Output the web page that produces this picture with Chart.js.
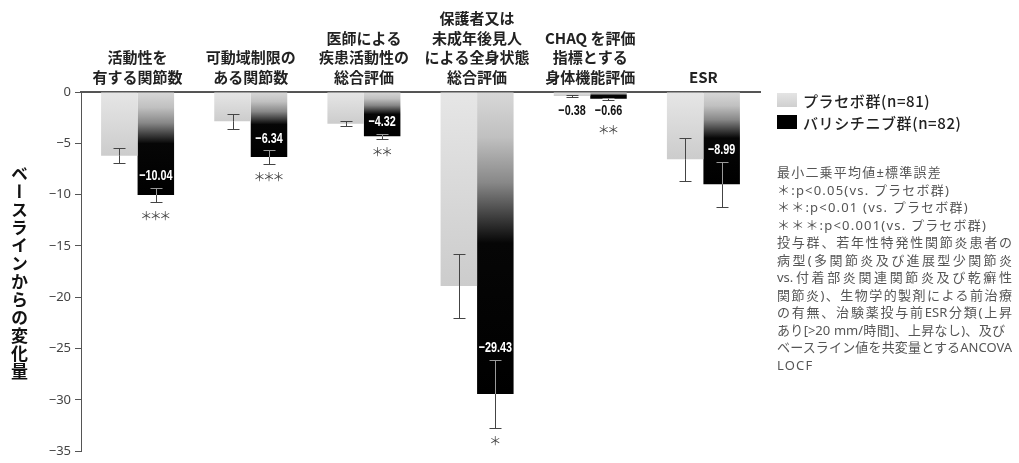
<!DOCTYPE html>
<html><head><meta charset="utf-8">
<script src="https://cdn.jsdelivr.net/npm/chart.js@4/dist/chart.umd.min.js"></script>
<style>
html,body{margin:0;padding:0;background:#fff;}
#wrap{position:relative;width:1019px;height:463px;overflow:hidden;background:#fff;}
#c{position:absolute;left:0;top:0;}
#ytitle{position:absolute;left:10px;top:165px;writing-mode:vertical-rl;font:bold 17px "Noto Sans CJK JP";line-height:18px;color:#111;letter-spacing:1px;}
#legend{position:absolute;left:777px;top:89px;font:500 15px "Noto Sans CJK JP";color:#222;letter-spacing:0.6px;}
.row{display:flex;align-items:center;height:22px;}
.sw{width:20px;height:14px;margin-right:6px;}
#notes{position:absolute;left:777px;top:164px;font:13px "Noto Sans","Noto Sans CJK JP";color:#555;line-height:17.5px;}
#notes div{white-space:nowrap;height:17.5px;}
#notes .s{letter-spacing:1.2px;}
#notes .j{width:235px;text-align:justify;text-align-last:justify;text-justify:inter-character;}
</style></head>
<body><div id="wrap">
<canvas id="c" width="1019" height="463"></canvas>
<div id="ytitle">ベースラインからの変化量</div>
<div id="legend">
<div class="row"><div class="sw" style="background:linear-gradient(#e4e4e4,#cfcfcf)"></div>プラセボ群(n=81)</div>
<div class="row"><div class="sw" style="background:#000"></div>バリシチニブ群(n=82)</div>
</div>
<div id="notes">
<div class="s">最小二乗平均値±標準誤差</div>
<div class="s">＊:p&lt;0.05(vs. プラセボ群)</div>
<div class="s">＊＊:p&lt;0.01 (vs. プラセボ群)</div>
<div class="s">＊＊＊:p&lt;0.001(vs. プラセボ群)</div>
<div class="j">投与群、若年性特発性関節炎患者の</div>
<div class="j">病型(多関節炎及び進展型少関節炎</div>
<div class="j">vs.付着部炎関連関節炎及び乾癬性</div>
<div class="j">関節炎)、生物学的製剤による前治療</div>
<div class="j">の有無、治験薬投与前ESR分類(上昇</div>
<div class="j" style="width:228px">あり[&gt;20 mm/時間]、上昇なし)、及び</div>
<div class="j">ベースライン値を共変量とするANCOVA</div>
<div class="s">LOCF</div>
</div>
</div>
<script>
const categories = [
  ['活動性を','有する関節数'],
  ['可動域制限の','ある関節数'],
  ['医師による','疾患活動性の','総合評価'],
  ['保護者又は','未成年後見人','による全身状態','総合評価'],
  ['CHAQ を評価','指標とする','身体機能評価'],
  'ESR'
];
const placeboLabel = 'プラセボ群(n=81)';
const activeLabel = 'バリシチニブ群(n=82)';
const placeboValues = [-6.2, -2.85, -3.1, -18.9, -0.38, -6.55];
const placeboErrors = [0.7, 0.75, 0.25, 3.15, 0.1, 2.1];
const activeValues = [-10.04, -6.34, -4.32, -29.43, -0.66, -8.99];
const activeErrors = [0.7, 0.65, 0.25, 3.3, 0.1, 2.2];
const significance = [3, 3, 2, 1, 2, 0];
const yMin = -35, yMax = 0, yStep = 5;

const placeboStops = [[0,'#e6e6e6'],[1,'#cccccc']];
const activeStops = [[0,'#d8d8d8'],[0.15,'#c0c0c0'],[0.3,'#888888'],[0.42,'#3a3a3a'],[0.5,'#060606'],[1,'#000000']];

function gradientFor(ctx, stops) {
  const chart = ctx.chart;
  if (!chart.chartArea || !chart.scales.y) return stops[stops.length-1][1];
  const y = chart.scales.y;
  const p0 = y.getPixelForValue(0), p1 = y.getPixelForValue(ctx.raw);
  if (Math.abs(p1 - p0) < 1) return stops[stops.length-1][1];
  const g = chart.ctx.createLinearGradient(0, p0, 0, p1);
  stops.forEach(s => g.addColorStop(s[0], s[1]));
  return g;
}

const fmt = v => (v < 0 ? '\u2212' : '') + Math.abs(v).toFixed(2);

function narrowText(c, text, x, y) {
  c.save();
  c.translate(x, y);
  c.scale(0.72, 1);
  c.fillText(text, 0, 0);
  c.restore();
}

const overlayPlugin = {
  id: 'overlay',
  afterDatasetsDraw(chart) {
    const c = chart.ctx, y = chart.scales.y;
    const sets = [[0, placeboValues, placeboErrors], [1, activeValues, activeErrors]];
    sets.forEach(([di, vals, errs]) => {
      const meta = chart.getDatasetMeta(di);
      meta.data.forEach((bar, i) => {
        const x = Math.round(bar.x) + 0.5;
        const v = vals[i], e = errs[i];
        const yt = Math.round(y.getPixelForValue(v + e)) + 0.5;
        const yb = Math.round(y.getPixelForValue(v - e)) + 0.5;
        const yv = y.getPixelForValue(v);
        const cap = 6;
        c.save();
        c.lineWidth = 1;
        c.strokeStyle = di === 1 ? '#9a9a9a' : '#444';
        c.beginPath(); c.moveTo(x, yt); c.lineTo(x, yv); c.moveTo(x-cap, yt); c.lineTo(x+cap, yt); c.stroke();
        c.strokeStyle = '#444';
        c.beginPath(); c.moveTo(x, yv); c.lineTo(x, yb); c.moveTo(x-cap, yb); c.lineTo(x+cap, yb); c.stroke();
        c.restore();
      });
    });
    c.save();
    c.font = 'bold 15px "Liberation Sans", sans-serif';
    c.textAlign = 'center'; c.textBaseline = 'middle';
    const zero = y.getPixelForValue(0);
    const starBase = [];
    const pMeta = chart.getDatasetMeta(0), aMeta = chart.getDatasetMeta(1);
    activeValues.forEach((v, i) => {
      const bar = aMeta.data[i];
      const h = y.getPixelForValue(v) - zero;
      const yb = y.getPixelForValue(v - activeErrors[i]);
      if (h > 25) {
        const yt = y.getPixelForValue(v + activeErrors[i]);
        c.fillStyle = '#fff';
        narrowText(c, fmt(v), bar.x, yt - 12);
        starBase[i] = yb + 14;
      } else {
        const ly = y.getPixelForValue(Math.min(v - activeErrors[i], placeboValues[i] - placeboErrors[i])) + 11;
        c.fillStyle = '#111';
        narrowText(c, fmt(v), bar.x, ly);
        narrowText(c, fmt(placeboValues[i]), pMeta.data[i].x, ly);
        starBase[i] = ly + 20;
      }
    });
    c.font = '12px "Noto Sans CJK JP"';
    c.fillStyle = '#444';
    significance.forEach((n, i) => {
      const bx = aMeta.data[i].x;
      for (let k = 0; k < n; k++) {
        const sx = bx + (k - (n - 1) / 2) * 9.5;
        c.fillText('＊', sx, starBase[i]);
      }
    });
    c.restore();
  }
};

new Chart(document.getElementById('c'), {
  type: 'bar',
  data: {
    labels: categories,
    datasets: [
      { label: placeboLabel, data: placeboValues, backgroundColor: ctx => gradientFor(ctx, placeboStops), borderWidth: 0 },
      { label: activeLabel, data: activeValues, backgroundColor: ctx => gradientFor(ctx, activeStops), borderWidth: 0 }
    ]
  },
  options: {
    responsive: false,
    animation: false,
    devicePixelRatio: 1,
    layout: { padding: { left: 0, right: 259, top: 0, bottom: 9 } },
    datasets: { bar: { categoryPercentage: 0.645, barPercentage: 1.0 } },
    plugins: { legend: { display: false }, tooltip: { enabled: false } },
    scales: {
      x: {
        position: 'top',
        grid: { display: false },
        border: { display: true, color: '#555', width: 2 },
        ticks: { color: '#222', padding: -3, maxRotation: 0, autoSkip: false,
          font: { family: '"Noto Sans CJK JP"', size: 15, weight: 'bold', lineHeight: 1.3 } },
        afterFit: s => { s.height = 92; }
      },
      y: {
        min: yMin, max: yMax,
        grid: { drawOnChartArea: false, drawTicks: true, tickLength: 6, color: '#555' },
        border: { display: true, color: '#555', width: 1 },
        ticks: { stepSize: yStep, color: '#444', padding: 4,
          font: { family: '"Noto Sans", sans-serif', size: 13 },
          callback: v => (v < 0 ? '\u2212' + Math.abs(v) : String(v)) },
        afterFit: s => { s.width = 81; }
      }
    }
  },
  plugins: [overlayPlugin]
});
</script>
</body></html>
